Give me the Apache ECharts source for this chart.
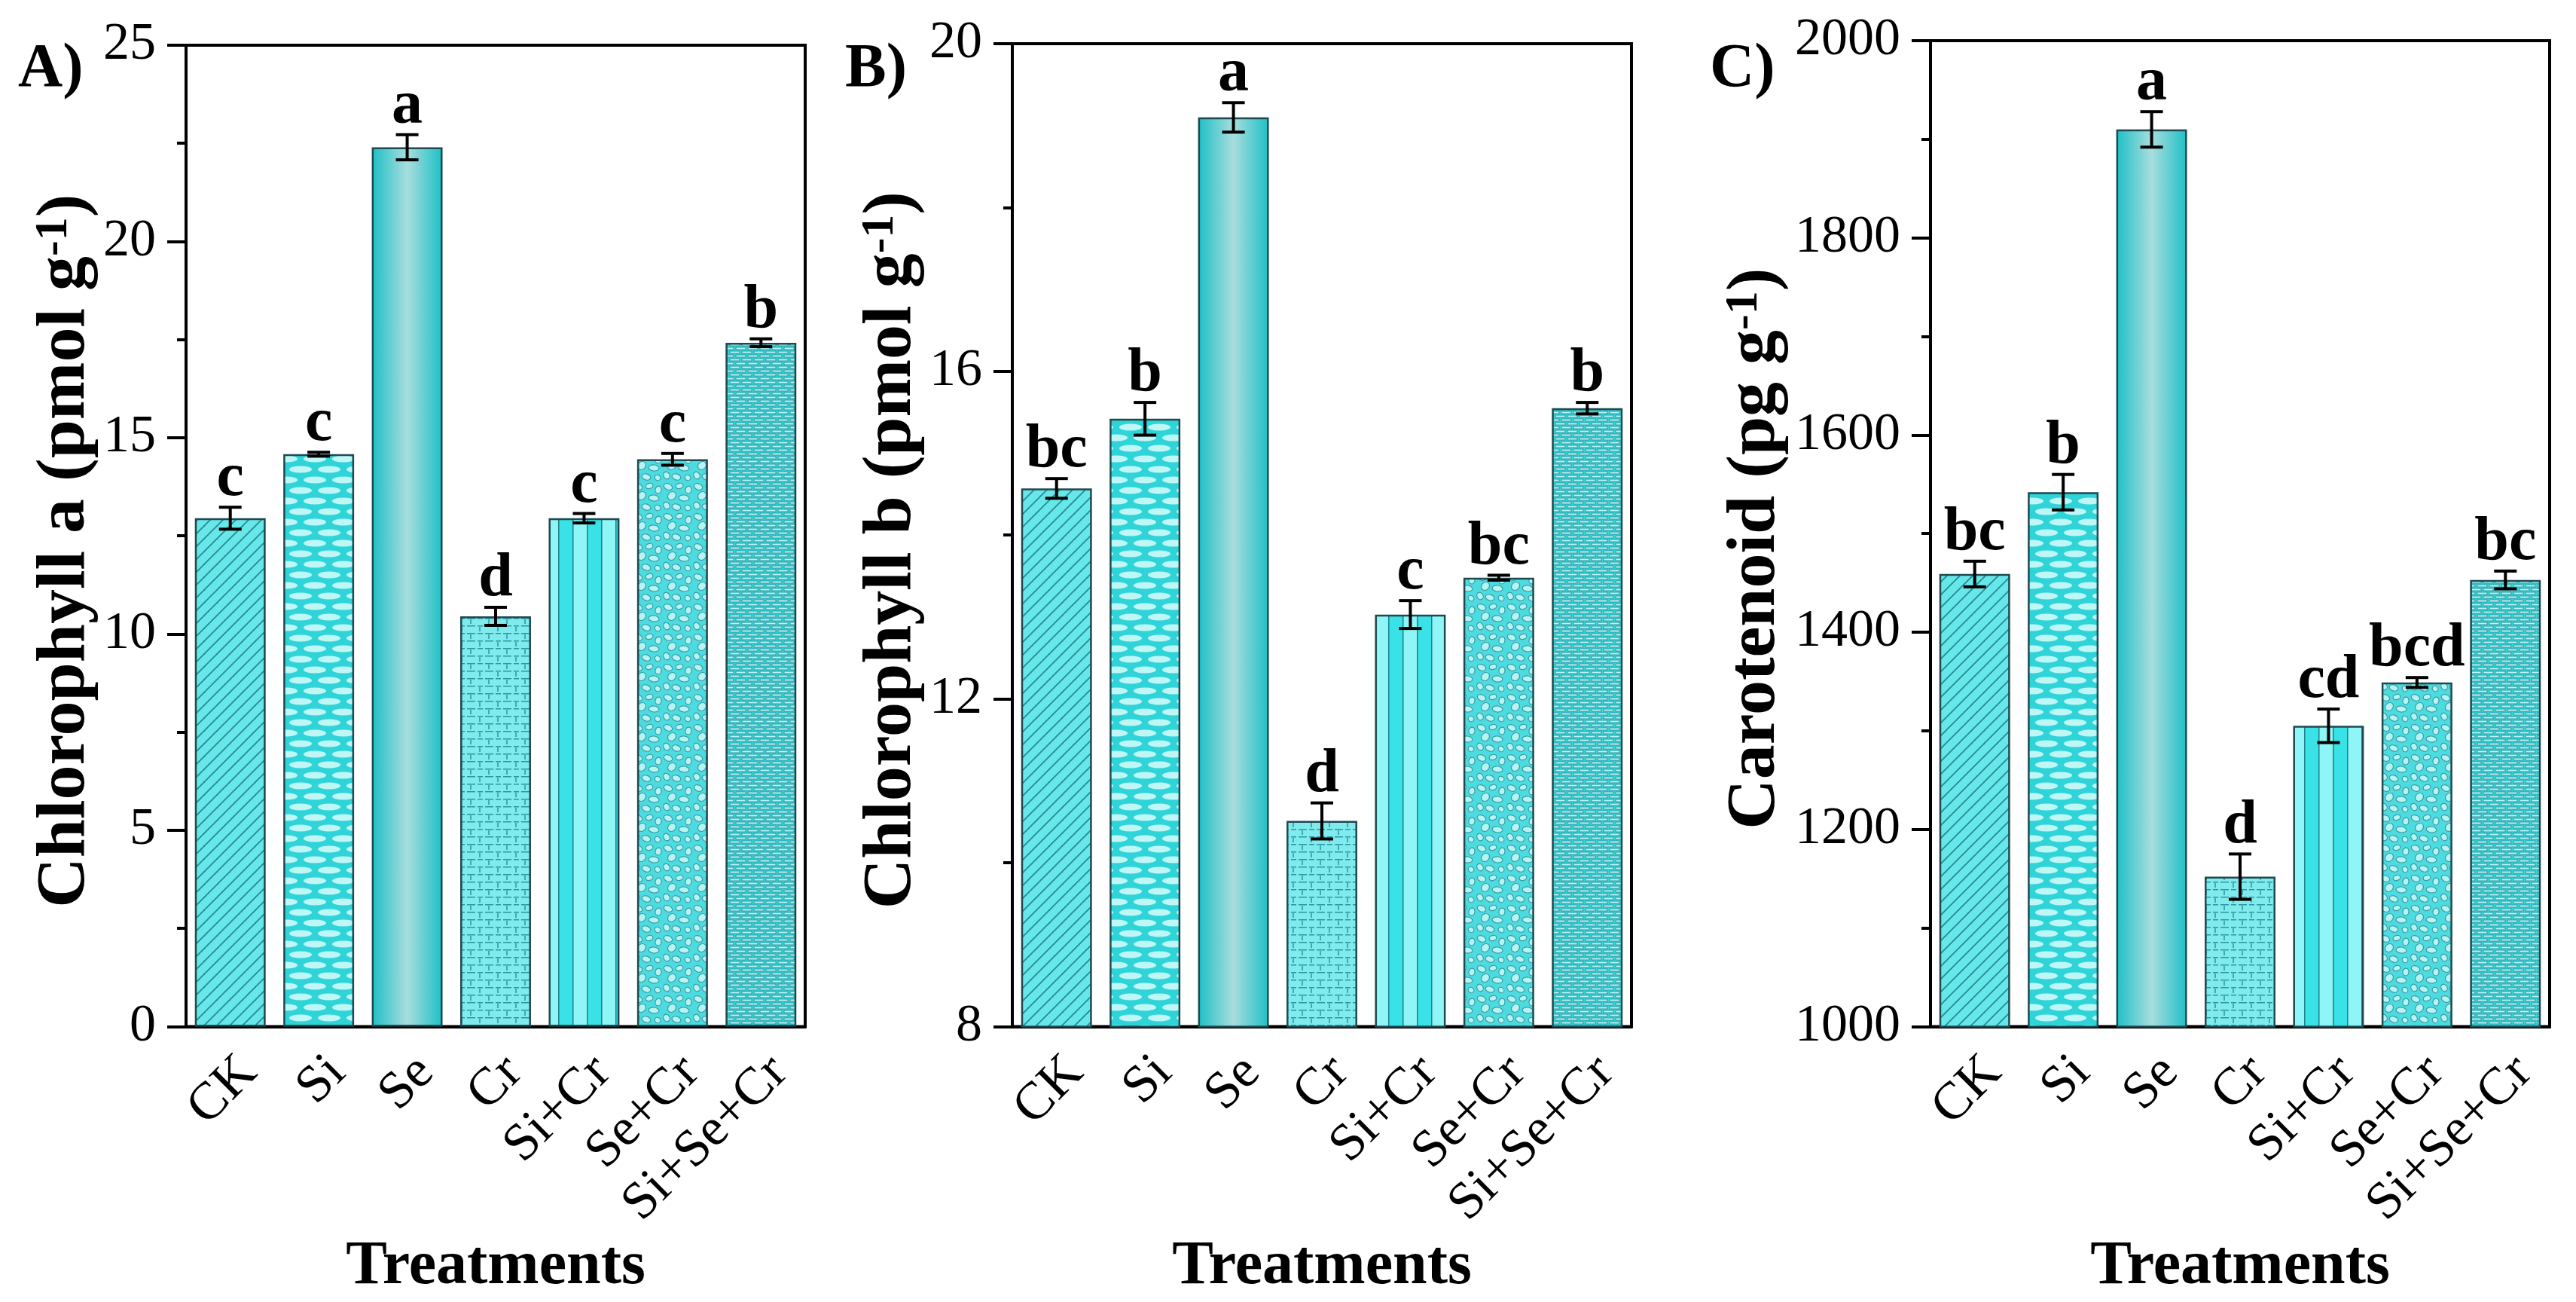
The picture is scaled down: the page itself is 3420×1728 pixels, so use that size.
<!DOCTYPE html>
<html>
<head>
<meta charset="utf-8">
<script src="https://cdn.jsdelivr.net/npm/echarts@6/dist/echarts.min.js"></script>
<style>
  html, body { margin: 0; padding: 0; background: #fff; }
  #main { width: 3420px; height: 1728px; }
</style>
</head>
<body>
<div id="main"></div>
<script>
// data
var treatments = ['CK', 'Si', 'Se', 'Cr', 'Si+Cr', 'Se+Cr', 'Si+Se+Cr'];

var chlA = [12.95, 14.58, 22.4, 10.45, 12.95, 14.45, 17.42];
var chlAErr = [0.28, 0.05, 0.32, 0.23, 0.12, 0.15, 0.1];
var chlALetters = ['c', 'c', 'a', 'd', 'c', 'c', 'b'];

var chlB = [14.57, 15.42, 19.1, 10.51, 13.03, 13.48, 15.55];
var chlBErr = [0.12, 0.2, 0.18, 0.22, 0.17, 0.03, 0.07];
var chlBLetters = ['bc', 'b', 'a', 'd', 'c', 'bc', 'b'];

var carot = [1459, 1542, 1910, 1152, 1305, 1349, 1453];
var carotErr = [13, 18, 18, 23, 17, 5, 9];
var carotLetters = ['bc', 'b', 'a', 'd', 'cd', 'bcd', 'bc'];

var FONT = '"Liberation Serif", "Times New Roman", serif';

// ---- fill patterns (one per treatment) ----
function tile(w, h, draw) {
  var c = document.createElement('canvas');
  c.width = w; c.height = h;
  draw(c.getContext('2d'), w, h);
  return { image: c, repeat: 'repeat' };
}

var hatch = tile(17, 17, function (g, w, h) {
  g.fillStyle = '#66e8ea'; g.fillRect(0, 0, w, h);
  g.strokeStyle = '#2a8890'; g.lineWidth = 1.8;
  [[0, 17, 17, 0], [-9, 9, 9, -9], [8, 26, 26, 8]].forEach(function (l) {
    g.beginPath(); g.moveTo(l[0], l[1]); g.lineTo(l[2], l[3]); g.stroke();
  });
});

var ovalBrick = tile(38, 28, function (g, w, h) {
  g.fillStyle = '#2fd4d8'; g.fillRect(0, 0, w, h);
  g.fillStyle = '#bff6f6';
  [[19, 7], [0, 21], [38, 21]].forEach(function (p) {
    g.beginPath(); g.ellipse(p[0], p[1], 15, 4.5, 0, 0, Math.PI * 2); g.fill();
  });
});

var dashBrick = tile(24, 20, function (g, w, h) {
  g.fillStyle = '#80ebed'; g.fillRect(0, 0, w, h);
  g.strokeStyle = '#2b95a0'; g.lineWidth = 1.5;
  g.setLineDash([7, 3]);
  g.beginPath(); g.moveTo(0, 0.75); g.lineTo(w, 0.75); g.stroke();
  g.beginPath(); g.moveTo(0, 10.75); g.lineTo(w, 10.75); g.stroke();
  g.setLineDash([]);
  g.beginPath(); g.moveTo(1, 2); g.lineTo(1, 8); g.stroke();
  g.beginPath(); g.moveTo(13, 12); g.lineTo(13, 18); g.stroke();
});

var stripes = tile(38, 4, function (g, w, h) {
  g.fillStyle = '#90f5f6'; g.fillRect(0, 0, 19, h);
  g.fillStyle = '#38e2e6'; g.fillRect(19, 0, 19, h);
  g.fillStyle = '#1f7f88'; g.fillRect(0, 0, 1.5, h); g.fillRect(19, 0, 1.5, h);
});

var cobbles = tile(40, 40, function (g, w, h) {
  g.fillStyle = '#4cdce0'; g.fillRect(0, 0, w, h);
  g.fillStyle = '#b6f3f3'; g.strokeStyle = '#3a9aa2'; g.lineWidth = 1.2;
  [[7, 6, 6, 4, 0.4], [22, 5, 5, 3.5, -0.3], [34, 10, 4, 5, 0.2], [12, 18, 5, 6, 0.8],
   [28, 21, 7, 4, 0.1], [5, 31, 4, 5, -0.5], [18, 33, 6, 4, 0.3], [33, 34, 4, 3.5, 0.6]]
    .forEach(function (e) {
      g.beginPath(); g.ellipse(e[0], e[1], e[2], e[3], e[4], 0, Math.PI * 2);
      g.fill(); g.stroke();
    });
});

var smallBrick = tile(16, 10, function (g, w, h) {
  g.fillStyle = '#38d6da'; g.fillRect(0, 0, w, h);
  g.fillStyle = '#baf4f4'; g.strokeStyle = '#2a9aa2'; g.lineWidth = 1;
  g.fillRect(1, 1, 13, 3); g.strokeRect(1, 1, 13, 3);
  g.fillRect(9, 6, 13, 3); g.strokeRect(9, 6, 13, 3);
  g.fillRect(-7, 6, 13, 3); g.strokeRect(-7, 6, 13, 3);
});

var sheen = new echarts.graphic.LinearGradient(0, 0, 1, 0, [
  { offset: 0, color: '#1cc0c6' },
  { offset: 0.5, color: '#a9dddd' },
  { offset: 1, color: '#1cc0c6' }
]);

var fills = [hatch, ovalBrick, sheen, dashBrick, stripes, cobbles, smallBrick];

// ---- layout ----
var panels = [
  { left: 247, top: 60, height: 1316, min: 0, max: 25, step: 5,
    vals: chlA, errs: chlAErr, letters: chlALetters,
    title: '{t|Chlorophyll a (pmol g}{s|-1}{t|)}', gap: 108, tag: 'A)', tagX: 24 },
  { left: 1344, top: 58, height: 1316, min: 8, max: 20, step: 4,
    vals: chlB, errs: chlBErr, letters: chlBLetters,
    title: '{t|Chlorophyll b (pmol g}{s|-1}{t|)}', gap: 108, tag: 'B)', tagX: 1122 },
  { left: 2563, top: 54, height: 1314, min: 1000, max: 2000, step: 200,
    vals: carot, errs: carotErr, letters: carotLetters,
    title: '{t|Carotenoid (pg g}{s|-1}{t|)}', gap: 186, tag: 'C)', tagX: 2270 }
];

var axisLineStyle = { color: '#000', width: 4 };

function errorItem(letters) {
  return function (params, api) {
    var m = api.value(1), e = api.value(2);
    var hi = api.coord([api.value(0), m + e]);
    var lo = api.coord([api.value(0), m - e]);
    var w = 15;
    var st = { stroke: '#000', lineWidth: 4 };
    return {
      type: 'group',
      children: [
        { type: 'line', shape: { x1: hi[0], y1: hi[1], x2: lo[0], y2: lo[1] }, style: st },
        { type: 'line', shape: { x1: hi[0] - w, y1: hi[1], x2: hi[0] + w, y2: hi[1] }, style: st },
        { type: 'line', shape: { x1: lo[0] - w, y1: lo[1], x2: lo[0] + w, y2: lo[1] }, style: st },
        { type: 'text', x: hi[0], y: hi[1] + 4,
          style: { text: letters[params.dataIndex], fill: '#000', fontFamily: FONT,
                   fontSize: 82, fontWeight: 'bold', align: 'center', verticalAlign: 'bottom' } }
      ]
    };
  };
}

var grids = [], xAxes = [], yAxes = [], series = [], graphics = [];

panels.forEach(function (p, k) {
  grids.push({ left: p.left, top: p.top, width: 822, height: p.height,
               show: true, borderColor: '#000', borderWidth: 4 });

  // labelled axis, ticks under each bar
  xAxes.push({
    gridIndex: k, type: 'category', data: treatments,
    axisLine: { lineStyle: axisLineStyle },
    axisTick: { alignWithLabel: true, length: 24, lineStyle: axisLineStyle },
    axisLabel: { interval: 0, rotate: 45, margin: 26, verticalAlign: 'top',
                 color: '#000', fontFamily: FONT, fontSize: 70 },
    splitLine: { show: false },
    name: 'Treatments', nameLocation: 'middle', nameGap: 244,
    nameTextStyle: { color: '#000', fontFamily: FONT, fontSize: 82, fontWeight: 'bold' }
  });
  // short ticks between bars
  xAxes.push({
    gridIndex: k, type: 'category', data: treatments, position: 'bottom',
    axisLine: { show: false },
    axisTick: { length: 12, lineStyle: axisLineStyle },
    axisLabel: { show: false },
    splitLine: { show: false }
  });

  yAxes.push({
    gridIndex: k, type: 'value', min: p.min, max: p.max, interval: p.step,
    axisLine: { show: true, lineStyle: axisLineStyle },
    axisTick: { show: true, length: 25, lineStyle: axisLineStyle },
    minorTick: { show: true, splitNumber: 2, length: 12, lineStyle: axisLineStyle },
    splitLine: { show: false },
    axisLabel: { margin: 40, color: '#000', fontFamily: FONT, fontSize: 70,
                 formatter: function (v) { return String(v); } },
    name: p.title, nameLocation: 'middle', nameRotate: 90, nameGap: p.gap,
    nameTextStyle: {
      color: '#000', fontFamily: FONT, fontSize: 92, fontWeight: 'bold',
      padding: [0, 40, 0, 0],
      rich: {
        t: { color: '#000', fontFamily: FONT, fontSize: 92, fontWeight: 'bold' },
        s: { color: '#000', fontFamily: FONT, fontSize: 62, fontWeight: 'bold', verticalAlign: 'top' }
      }
    }
  });

  series.push({
    type: 'bar', xAxisIndex: 2 * k, yAxisIndex: k,
    barCategoryGap: '20%',
    itemStyle: { borderColor: '#1d4a50', borderWidth: 2.5 },
    data: p.vals.map(function (v, i) {
      return { value: v, itemStyle: { color: fills[i] } };
    }),
    silent: true, animation: false
  });

  series.push({
    type: 'custom', xAxisIndex: 2 * k, yAxisIndex: k,
    renderItem: errorItem(p.letters),
    encode: { x: 0, y: 1 },
    data: p.vals.map(function (v, i) { return [i, v, p.errs[i]]; }),
    clip: false, silent: true, animation: false, z: 5
  });

  graphics.push({
    type: 'text', left: p.tagX, top: 52,
    style: { text: p.tag, fill: '#000', font: 'bold 82px ' + FONT }
  });
});

var chart = echarts.init(document.getElementById('main'));
chart.setOption({
  backgroundColor: '#fff',
  animation: false,
  grid: grids,
  xAxis: xAxes,
  yAxis: yAxes,
  series: series,
  graphic: graphics
});
</script>
</body>
</html>
